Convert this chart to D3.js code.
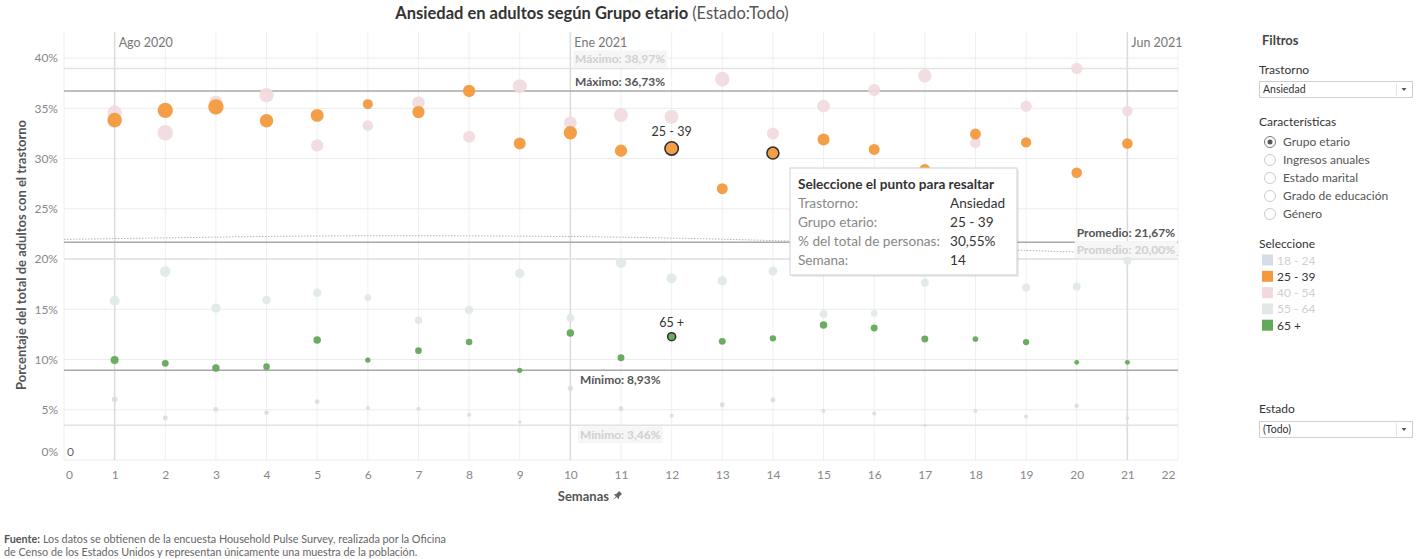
<!DOCTYPE html>
<html>
<head>
<meta charset="utf-8">
<script src="https://cdn.jsdelivr.net/npm/d3@7"></script>
<style>
  body { margin: 0; background: #fff; font-family: Lato, "Noto Sans", sans-serif; }
  svg text { font-family: Lato, "Noto Sans", sans-serif; }
</style>
</head>
<body>
<div id="chart"></div>
<script>
// --- data ---
const semanas = [1,2,3,4,5,6,7,8,9,10,11,12,13,14,15,16,17,18,19,20,21];
const grupos = ['18 - 24', '25 - 39', '40 - 54', '55 - 64', '65 +'];
const gruposActivos = ['25 - 39', '65 +'];

// % del total de adultos con el trastorno, por semana
const pct18_24 = [6.04,4.18,5.04,4.71,5.80,5.17,5.10,4.51,3.78,7.13,5.10,4.41,5.50,5.97,4.88,4.64,3.46,4.88,4.34,5.41,4.18];
const pct25_39 = [33.83,34.80,35.15,33.77,34.30,35.42,34.63,36.73,31.51,32.57,30.78,31.01,27.00,30.55,31.91,30.91,28.90,32.44,31.61,28.59,31.51];
const pct40_54 = [34.56,32.57,35.56,36.32,31.31,33.30,35.56,32.17,37.21,33.57,34.33,34.16,37.91,32.50,35.22,36.82,38.24,31.57,35.22,38.97,34.73];
const pct55_64 = [15.85,18.77,15.12,15.92,16.65,16.15,13.90,14.93,18.57,14.13,19.63,18.08,17.84,18.81,14.53,14.59,17.64,19.30,17.18,17.25,19.83];
const pct65 = [9.95,9.62,9.15,9.29,11.94,9.95,10.88,11.74,8.93,12.64,10.18,12.27,11.81,12.11,13.43,13.13,12.04,12.04,11.74,9.72,9.72];

// tamaño relativo de la muestra (codificado en el área del punto)
const tam18_24 = [8,6,6,5,6,4,4,4,3,7,6,4,6,6,4,4,3,4,4,5,3];
const tam25_39 = [53,59,59,46,42,25,38,38,36,45,38,45,30,36,36,30,32,30,27,28,28];
const tam40_54 = [53,59,49,52,38,28,40,36,49,40,49,49,53,36,40,36,45,28,32,32,28];
const tam55_64 = [25,28,22,18,18,12,14,18,22,16,28,25,22,20,16,11,16,16,16,16,16];
const tam65 = [16,12,14,11,14,7,11,11,7,14,12,16,12,10,14,12,12,8,10,6,6];

// lineas de referencia
const refNombre = ['Máximo', 'Máximo', 'Promedio', 'Promedio', 'Mínimo', 'Mínimo'];
const refValor = [38.97, 36.73, 20.00, 21.67, 3.46, 8.93];
const refActiva = [false, true, false, true, false, true];

// linea de tendencia (punteada)
const tendSemana = [0,2,4,6,8,10,12,14,16,18,20,22];
const tendValor = [21.96,22.11,22.25,22.32,22.31,22.24,22.09,21.84,21.49,21.04,20.70,20.35];

// meses
const mesSemana = [1, 10, 21];
const mesEtiqueta = ['Ago 2020', 'Ene 2021', 'Jun 2021'];

const yTicks = [0,5,10,15,20,25,30,35,40];
const xTicks = [0,1,2,3,4,5,6,7,8,9,10,11,12,13,14,15,16,17,18,19,20,21,22];

const caracteristicas = ['Grupo etario', 'Ingresos anuales', 'Estado marital', 'Grado de educación', 'Género'];

// tooltip
const tipCampos = ['Trastorno:', 'Grupo etario:', '% del total de personas:', 'Semana:'];
const tipValores = ['Ansiedad', '25 - 39', '30,55%', '14'];

// --- setup ---
const width = 1421, height = 559;
const colores = {
    '18 - 24': '#d6dde7',
    '25 - 39': '#f39a3e',
    '40 - 54': '#f1d9de',
    '55 - 64': '#e0e9e6',
    '65 +': '#64a85a'
};

const es = d3.formatLocale({decimal: ',', thousands: '.', grouping: [3], currency: ['', '€']});
const fmt = es.format('.2f');

const svg = d3.select('#chart').append('svg')
    .attr('width', width)
    .attr('height', height);

const x = d3.scaleLinear().domain([0, 22]).range([64, 1178]);
const y = d3.scaleLinear().domain([0, 42.6]).range([460, 32]);
const r = d3.scaleSqrt().domain([0, 100]).range([0, 10]);

const series = [
    {grupo: '18 - 24', pct: pct18_24, tam: tam18_24},
    {grupo: '55 - 64', pct: pct55_64, tam: tam55_64},
    {grupo: '40 - 54', pct: pct40_54, tam: tam40_54},
    {grupo: '65 +', pct: pct65, tam: tam65},
    {grupo: '25 - 39', pct: pct25_39, tam: tam25_39}
];

// title
const title = svg.append('text')
    .attr('x', 592).attr('y', 19)
    .attr('text-anchor', 'middle')
    .attr('font-size', 16.5)
    .attr('fill', '#333');
title.append('tspan').attr('font-weight', 700).text('Ansiedad en adultos según Grupo etario ');
title.append('tspan').attr('fill', '#555').text('(Estado:Todo)');

// grid
const g = svg.append('g');
g.selectAll('.vgrid').data(xTicks).enter().append('line')
    .attr('class', 'vgrid')
    .attr('x1', d => x(d)).attr('x2', d => x(d))
    .attr('y1', 32).attr('y2', 460)
    .attr('stroke', '#f0f0f0');
g.selectAll('.hgrid').data(yTicks).enter().append('line')
    .attr('class', 'hgrid')
    .attr('x1', 64).attr('x2', 1178)
    .attr('y1', d => y(d)).attr('y2', d => y(d))
    .attr('stroke', '#ececec');

// month reference lines
g.selectAll('.mes').data(mesSemana).enter().append('line')
    .attr('x1', d => x(d)).attr('x2', d => x(d))
    .attr('y1', 32).attr('y2', 460)
    .attr('stroke', '#dcdcdc').attr('stroke-width', 1.5);
g.selectAll('.mesLabel').data(mesSemana).enter().append('text')
    .attr('x', d => x(d) + 4).attr('y', 47)
    .attr('font-size', 12.5).attr('fill', '#777')
    .text((d, i) => mesEtiqueta[i]);

// reference lines
const refs = refValor.map((v, i) => ({v: v, nombre: refNombre[i], activa: refActiva[i]}));
g.selectAll('.ref').data(refs).enter().append('line')
    .attr('x1', 64).attr('x2', 1178)
    .attr('y1', d => y(d.v)).attr('y2', d => y(d.v))
    .attr('stroke', d => d.activa ? '#a8a8a8' : '#e2e2e2')
    .attr('stroke-width', d => d.activa ? 1.6 : 1.4);

// trend line
const trend = tendSemana.map((s, i) => ({x: s, y: tendValor[i]}));
g.append('path')
    .datum(trend)
    .attr('d', d3.line().x(d => x(d.x)).y(d => y(d.y)).curve(d3.curveNatural))
    .attr('fill', 'none')
    .attr('stroke', '#aaa')
    .attr('stroke-width', 0.9)
    .attr('stroke-dasharray', '1.5,1.5');

// ref line labels
refs.forEach(d => {
    let lx, ly, anchor = 'start';
    if (d.nombre === 'Máximo') { lx = 575; ly = y(d.v) - 5; }
    else if (d.nombre === 'Promedio') { lx = 1175; ly = y(d.v) - 5; anchor = 'end'; }
    else { lx = 580; ly = y(d.v) + 14; }
    const t = g.append('text')
        .attr('x', lx).attr('y', ly)
        .attr('text-anchor', anchor)
        .attr('font-size', 12).attr('font-weight', 700)
        .attr('fill', d.activa ? '#555' : '#d0d0d0')
        .text(d.nombre + ': ' + fmt(d.v) + '%');
    if (!d.activa) {
        const bb = t.node().getBBox();
        g.insert('rect', () => t.node())
            .attr('x', bb.x - 2).attr('y', bb.y - 1)
            .attr('width', bb.width + 4).attr('height', bb.height + 2)
            .attr('fill', '#f6f6f6');
    }
});

// axes
const yAxis = d3.axisLeft(y).tickValues(yTicks).tickSize(0).tickPadding(6).tickFormat(d => d + '%');
const yA = svg.append('g').attr('transform', 'translate(64,0)').call(yAxis);
yA.select('.domain').remove();
yA.selectAll('text').attr('font-size', 12).attr('fill', '#888');
yA.selectAll('.tick').filter(d => d === 0).select('text').attr('dy', '-0.4em');

const xAxis = d3.axisBottom(x).tickValues(xTicks).tickSize(0).tickPadding(10);
const xA = svg.append('g').attr('transform', 'translate(0,460)').call(xAxis);
xA.select('.domain').remove();
xA.selectAll('text').attr('font-size', 12).attr('fill', '#888');
xA.selectAll('.tick').filter(d => d === 0).select('text').attr('dx', 5);
xA.selectAll('.tick').filter(d => d === 22).select('text').attr('dx', -10);

svg.append('text').attr('x', 67).attr('y', 456)
    .attr('font-size', 12).attr('fill', '#666').text('0');

svg.append('text')
    .attr('transform', 'translate(26,255) rotate(-90)')
    .attr('text-anchor', 'middle')
    .attr('font-size', 13).attr('font-weight', 700).attr('fill', '#555')
    .text('Porcentaje del total de adultos con el trastorno');

svg.append('text')
    .attr('x', 609).attr('y', 501)
    .attr('text-anchor', 'end')
    .attr('font-size', 13).attr('font-weight', 700).attr('fill', '#555')
    .text('Semanas');
// pin icon
svg.append('path')
    .attr('transform', 'translate(617,496) rotate(45)')
    .attr('d', 'M-2,-5 L2,-5 L2,-1 L3.5,1 L-3.5,1 L-2,-1 Z M-0.5,1 L0,6 L0.5,1 Z')
    .attr('fill', '#666');

// points
const pg = svg.append('g');
series.forEach(s => {
    const pts = semanas.map((w, i) => ({w: w, v: s.pct[i], t: s.tam[i], grupo: s.grupo}));
    pg.selectAll('.p' + s.grupo.replace(/\W/g, ''))
        .data(pts).enter().append('circle')
        .attr('cx', d => x(d.w))
        .attr('cy', d => y(d.v))
        .attr('r', d => r(d.t))
        .attr('fill', colores[s.grupo])
        .attr('fill-opacity', gruposActivos.includes(s.grupo) ? 0.95 : 0.9)
        .attr('stroke', d => gruposActivos.includes(d.grupo) && (d.w === 12 || (d.w === 14 && d.grupo === '25 - 39')) ? '#333' : 'none')
        .attr('stroke-width', 1.6);
});

// labels on highlighted marks
[{g: '25 - 39', pct: pct25_39, tam: tam25_39}, {g: '65 +', pct: pct65, tam: tam65}].forEach(d => {
    const i = semanas.indexOf(12);
    svg.append('text')
        .attr('x', x(12)).attr('y', y(d.pct[i]) - r(d.tam[i]) - 6)
        .attr('text-anchor', 'middle')
        .attr('font-size', 12.5).attr('fill', '#333')
        .text(d.g);
});

// tooltip
const tip = svg.append('g').attr('transform', 'translate(790,168)');
tip.append('rect').attr('x', 2).attr('y', 2).attr('width', 227).attr('height', 107)
    .attr('fill', '#000').attr('opacity', 0.08);
tip.append('rect').attr('width', 227).attr('height', 107)
    .attr('fill', '#fff').attr('stroke', '#cfcfcf');
tip.append('text').attr('x', 8).attr('y', 21)
    .attr('font-size', 13.6).attr('font-weight', 700).attr('fill', '#333')
    .text('Seleccione el punto para resaltar');
tipCampos.forEach((c, i) => {
    tip.append('text').attr('x', 8).attr('y', 40 + i * 19)
        .attr('font-size', 13.6).attr('fill', '#888').text(c);
    tip.append('text').attr('x', 160).attr('y', 40 + i * 19)
        .attr('font-size', 13.6).attr('fill', '#333').text(tipValores[i]);
});

// right panel
const side = svg.append('g');
side.append('text').attr('x', 1262).attr('y', 45)
    .attr('font-size', 13).attr('font-weight', 700).attr('fill', '#444').text('Filtros');
side.append('text').attr('x', 1259).attr('y', 74)
    .attr('font-size', 12).attr('fill', '#333').text('Trastorno');

function dropdown(yTop, label){
    side.append('rect').attr('x', 1259.5).attr('y', yTop + 0.5).attr('width', 153).attr('height', 16)
        .attr('fill', '#fff').attr('stroke', '#cfcfcf');
    side.append('line').attr('x1', 1396.5).attr('x2', 1396.5).attr('y1', yTop + 2).attr('y2', yTop + 15)
        .attr('stroke', '#e4e4e4');
    side.append('text').attr('x', 1263).attr('y', yTop + 12)
        .attr('font-size', 10.5).attr('fill', '#333').text(label);
    side.append('path').attr('d', `M1401.5,${yTop + 7} L1406.5,${yTop + 7} L1404,${yTop + 10} Z`)
        .attr('fill', '#555');
}
dropdown(81, 'Ansiedad');

side.append('text').attr('x', 1259).attr('y', 126)
    .attr('font-size', 12).attr('fill', '#333').text('Características');
caracteristicas.forEach((c, i) => {
    const cy = 142 + i * 18;
    side.append('circle').attr('cx', 1270).attr('cy', cy).attr('r', 5.5)
        .attr('fill', '#fff').attr('stroke', i === 0 ? '#777' : '#ccc');
    if (i === 0) side.append('circle').attr('cx', 1270).attr('cy', cy).attr('r', 2.5).attr('fill', '#555');
    side.append('text').attr('x', 1283).attr('y', cy + 4)
        .attr('font-size', 12).attr('fill', '#555').text(c);
});

side.append('text').attr('x', 1259).attr('y', 248)
    .attr('font-size', 12).attr('fill', '#333').text('Seleccione');
grupos.forEach((gr, i) => {
    const cy = 260 + i * 16.3;
    side.append('rect').attr('x', 1262).attr('y', cy - 5.5).attr('width', 11).attr('height', 11)
        .attr('fill', colores[gr]);
    side.append('text').attr('x', 1277).attr('y', cy + 4.5)
        .attr('font-size', 12)
        .attr('fill', gruposActivos.includes(gr) ? '#333' : '#cfcfcf')
        .text(gr);
});

side.append('text').attr('x', 1259).attr('y', 413)
    .attr('font-size', 12).attr('fill', '#333').text('Estado');
dropdown(421, '(Todo)');

// footnote
const f1 = svg.append('text').attr('x', 4).attr('y', 543).attr('font-size', 10.8).attr('fill', '#666');
f1.append('tspan').attr('font-weight', 700).attr('fill', '#555').text('Fuente:');
f1.append('tspan').text(' Los datos se obtienen de la encuesta Household Pulse Survey, realizada por la Oficina');
svg.append('text').attr('x', 4).attr('y', 556).attr('font-size', 10.8).attr('fill', '#666')
    .text('de Censo de los Estados Unidos y representan únicamente una muestra de la población.');
</script>
</body>
</html>
